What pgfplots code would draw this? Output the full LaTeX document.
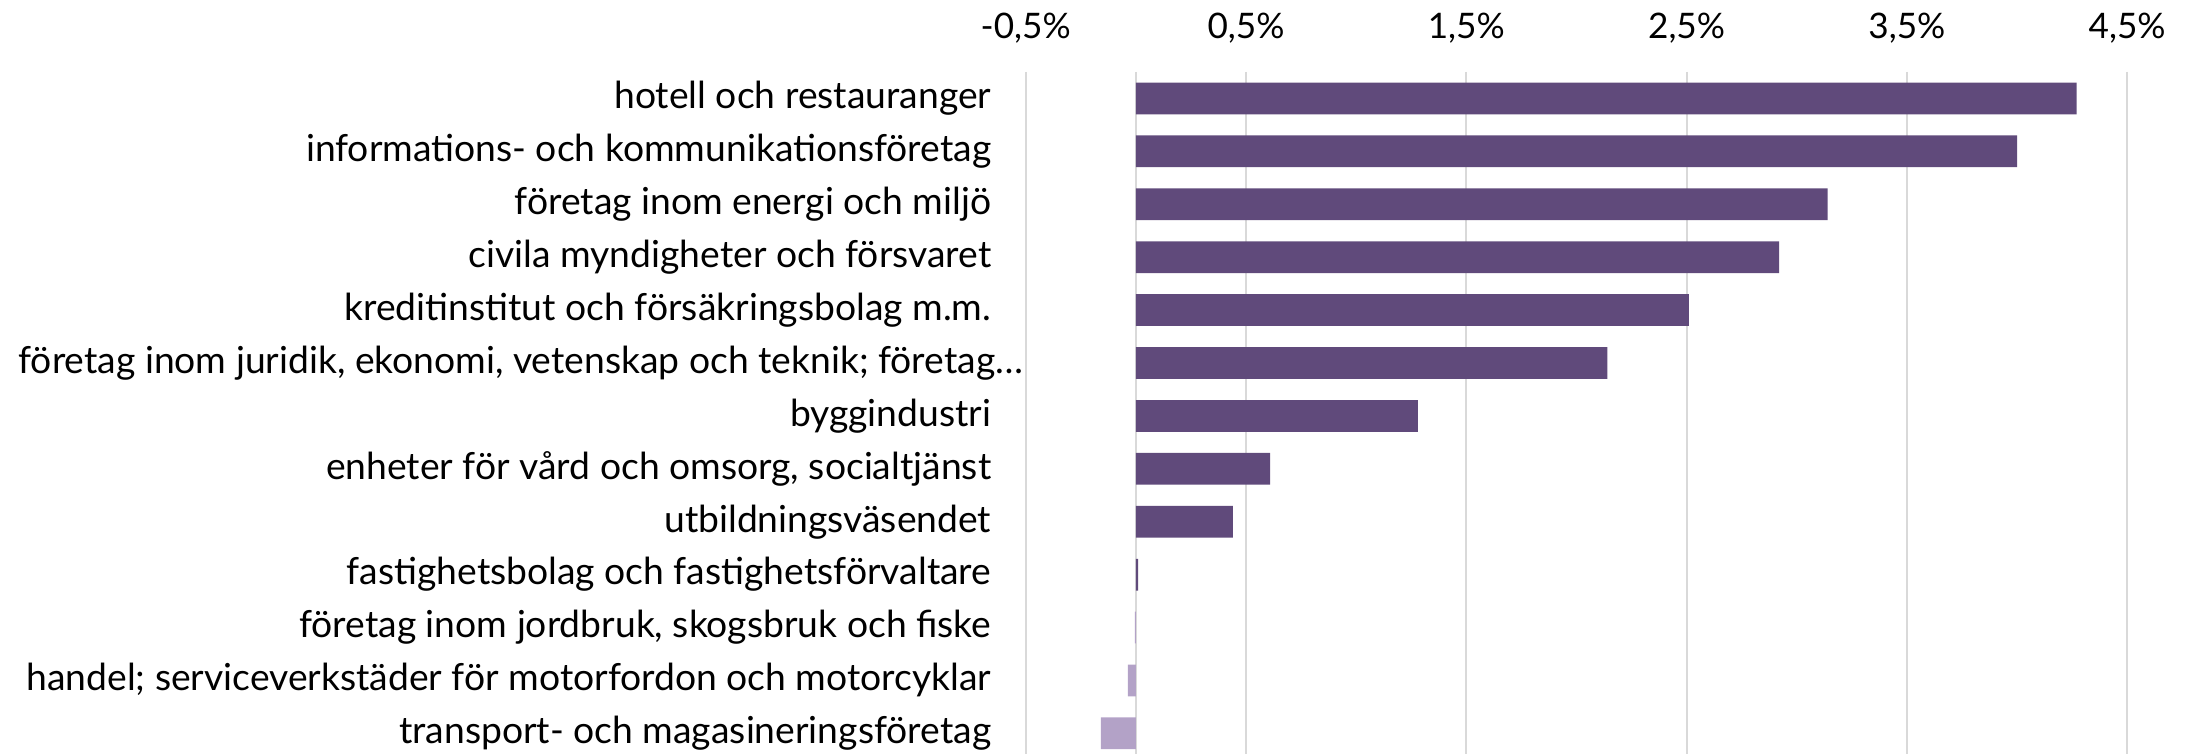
\documentclass[border=0pt]{standalone}
\usepackage{fontspec}
\setmainfont{Lato}
\usepackage{pgfplots}
\pgfplotsset{compat=1.18}
\definecolor{darkpurple}{HTML}{604A7B}
\definecolor{lightpurple}{HTML}{B3A2C7}
\definecolor{gridgray}{HTML}{D9D9D9}
\begin{document}
\begin{tikzpicture}
\begin{axis}[
  at={(0,0)}, anchor=south west,
  scale only axis,
  width=110.15mm, height=68.2mm,
  xmin=-0.5, xmax=4.5,
  ymin=-0.5, ymax=12.39,
  y dir=reverse,
  axis line style={draw=none},
  xtick={-0.5,0.5,1.5,2.5,3.5,4.5},
  xticklabels={{-0,5\%},{0,5\%},{1,5\%},{2,5\%},{3,5\%},{4,5\%}},
  xticklabel pos=upper,
  xticklabel style={anchor=center, inner sep=0pt, yshift=4.4mm, font=\fontsize{10}{12}\selectfont},
  extra x ticks={0},
  extra x tick labels={},
  extra x tick style={grid style={draw=gridgray, line width=0.6pt}},
  xmajorgrids,
  major grid style={draw=gridgray, line width=0.6pt},
  major tick length=0pt,
  ytick={0,1,2,3,4,5,6,7,8,9,10,11,12},
  yticklabels={
    {hotell och restauranger},
    {informations- och kommunikationsföretag},
    {företag inom energi och miljö},
    {civila myndigheter och försvaret},
    {kreditinstitut och försäkringsbolag m.m.},
    {företag inom juridik, ekonomi, vetenskap och teknik; företag…\hspace*{-3.2mm}},
    {byggindustri},
    {enheter för vård och omsorg, socialtjänst},
    {utbildningsväsendet},
    {fastighetsbolag och fastighetsförvaltare},
    {företag inom jordbruk, skogsbruk och fiske},
    {handel; serviceverkstäder för motorfordon och motorcyklar},
    {transport- och magasineringsföretag}},
  yticklabel style={anchor=east, inner sep=0pt, xshift=-3.37mm, font=\fontsize{10.6}{12.7}\selectfont},
  xbar, bar width=0.6, bar shift=0,
]
\addplot[fill=darkpurple, draw=none] coordinates {
  (4.27,0) (4.00,1) (3.14,2) (2.92,3) (2.51,4) (2.14,5) (1.28,6) (0.61,7) (0.44,8) (0.01,9)};
\addplot[fill=lightpurple, draw=none] coordinates {
  (-0.004,10) (-0.036,11) (-0.159,12)};
\end{axis}
\pgfresetboundingbox
\path[use as bounding box] (-102.57mm,0) rectangle (115.93mm,75.4mm);
\end{tikzpicture}
\end{document}
